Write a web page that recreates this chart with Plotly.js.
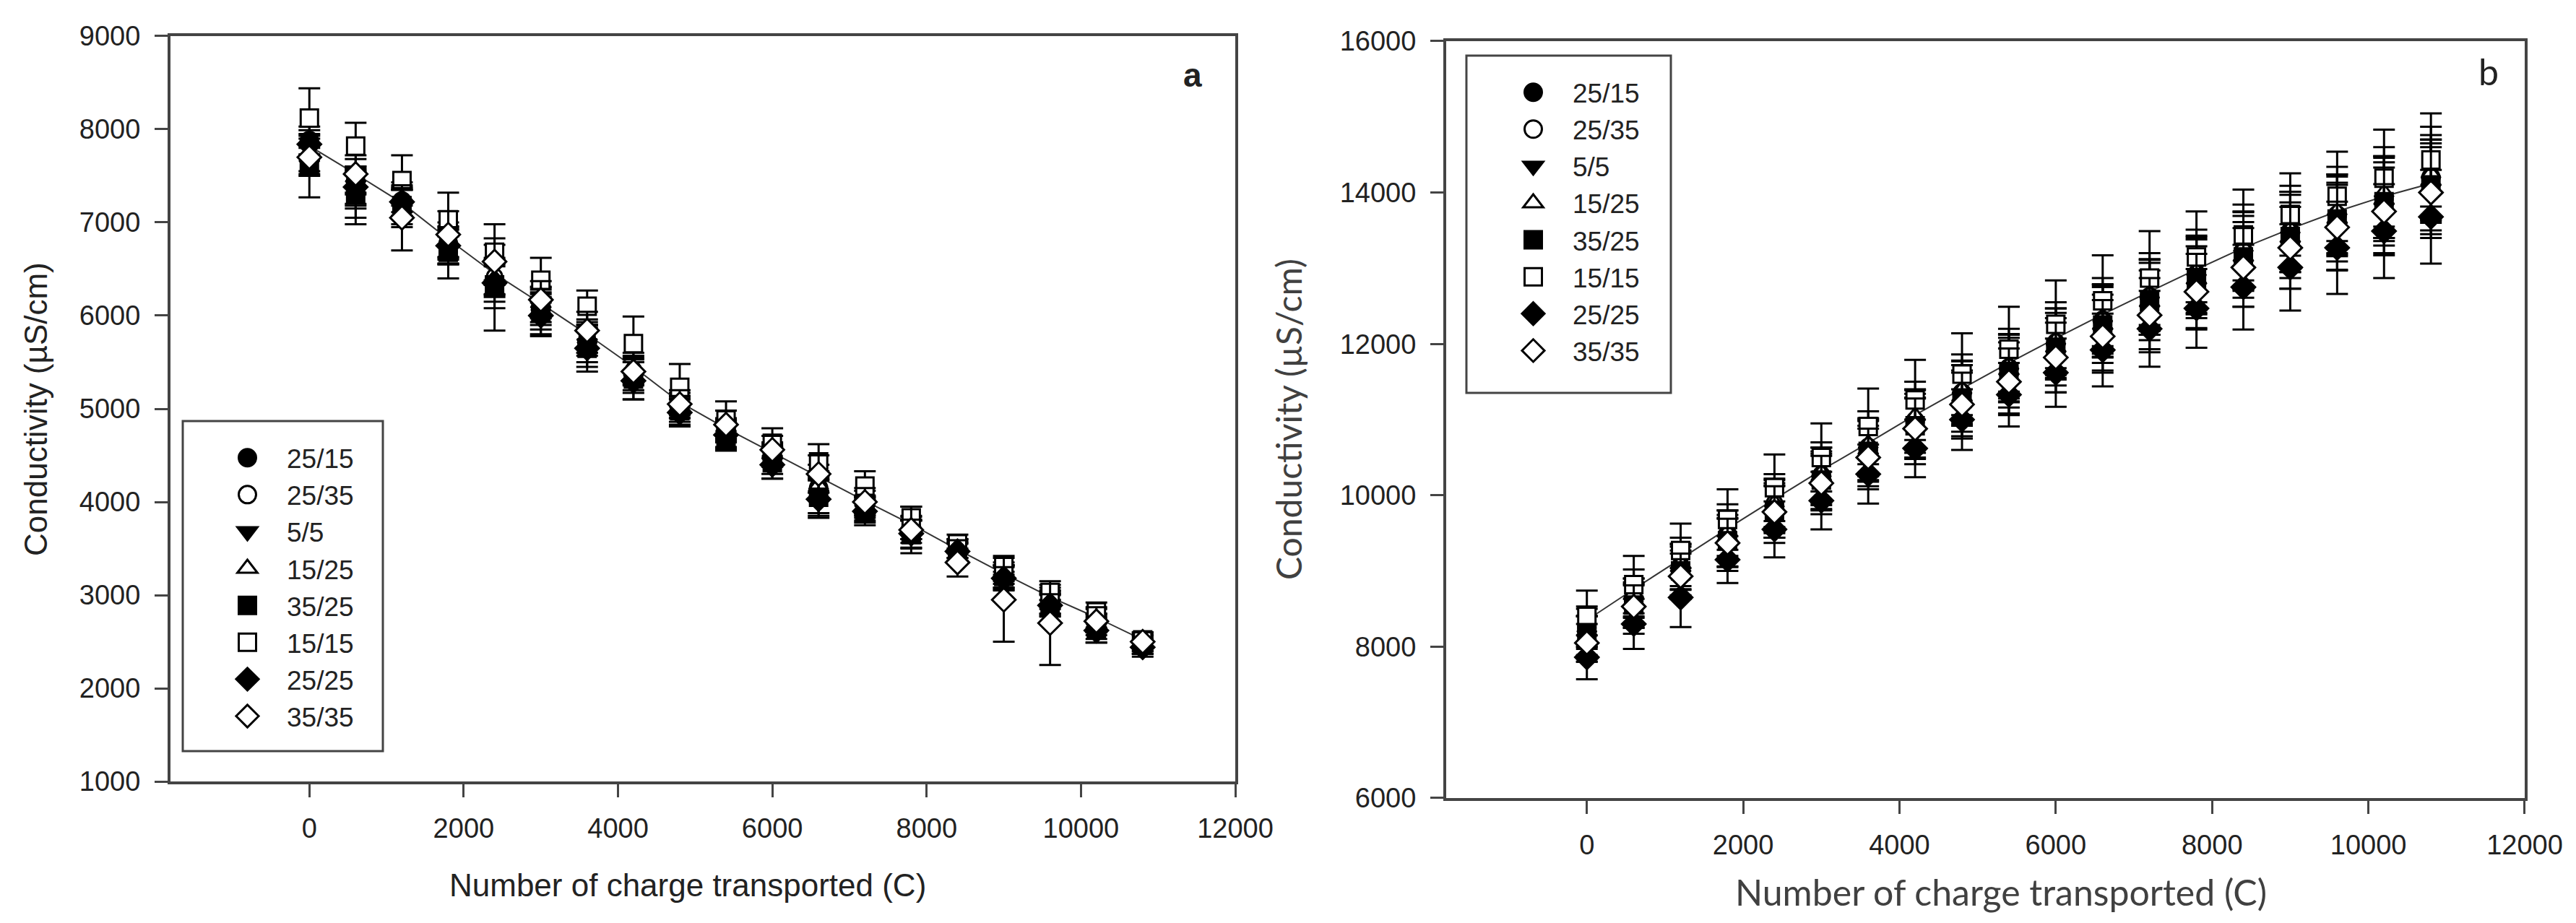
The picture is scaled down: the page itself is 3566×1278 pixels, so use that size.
<!DOCTYPE html>
<html>
<head>
<meta charset="utf-8">
<script src="https://cdn.plot.ly/plotly-3.0.1.min.js"></script>
<style>
  html, body { margin: 0; padding: 0; background: #fff; }
  #chart { width: 3566px; height: 1278px; }
</style>
</head>
<body>
<div id="chart"></div>
<script>
const charge = [0, 600, 1200, 1800, 2400, 3000, 3600, 4200, 4800, 5400, 6000, 6600, 7200, 7800, 8400, 9000, 9600, 10200, 10800];
const seriesNames = ['25/15', '25/35', '5/5', '15/25', '35/25', '15/15', '25/25', '35/35'];

// panel a: conductivity falling
const fitA = [7820, 7520, 7210, 6820, 6450, 6130, 5800, 5450, 5070, 4790, 4530, 4270, 4010, 3760, 3490, 3230, 2980, 2760, 2520];
const a2515 = [7880, 7450, 7230, 6780, 6380, 6080, 5720, 5380, 5000, 4750, 4480, 4150, 3960, 3700, 3480, 3220, 2950, 2700, 2480];
const a2535 = [7830, 7330, 7150, 6740, 6420, 6150, 5780, 5420, 5050, 4780, 4520, 4250, 4000, 3750, 3470, 3250, 2980, 2750, 2510];
const a55 = [7620, 7400, 7200, 6700, 6300, 6050, 5700, 5350, 4980, 4720, 4450, 4080, 3920, 3680, 3450, 3150, 2900, 2650, 2450];
const a1525 = [7700, 7350, 7250, 6800, 6400, 6100, 5750, 5400, 5020, 4760, 4500, 4180, 3950, 3720, 3500, 3200, 2920, 2700, 2470];
const a3525 = [7600, 7300, 7180, 6680, 6330, 6030, 5650, 5320, 4980, 4700, 4420, 4050, 3900, 3650, 3480, 3200, 2900, 2640, 2470];
const a1515 = [8120, 7820, 7450, 7030, 6680, 6380, 6100, 5700, 5230, 4880, 4630, 4430, 4170, 3830, 3550, 3320, 3030, 2820, 2520];
const a2525 = [7840, 7380, 7220, 6750, 6350, 6000, 5650, 5300, 4960, 4720, 4400, 4030, 3900, 3660, 3470, 3180, 2890, 2620, 2440];
const a3535 = [7700, 7520, 7050, 6870, 6580, 6170, 5840, 5400, 5050, 4830, 4560, 4300, 4000, 3700, 3350, 2950, 2700, 2720, 2500];

const a2515Err = [150, 150, 120, 150, 150, 150, 150, 120, 100, 100, 100, 120, 100, 100, 80, 100, 100, 100, 80];
const a2535Err = [120, 350, 200, 180, 200, 160, 180, 150, 120, 120, 120, 150, 120, 100, 100, 100, 100, 100, 80];
const a55Err = [100, 200, 150, 150, 460, 200, 200, 180, 120, 130, 150, 200, 120, 120, 100, 100, 100, 120, 80];
const a1525Err = [150, 200, 180, 200, 200, 200, 150, 150, 120, 120, 120, 150, 120, 120, 100, 120, 120, 100, 100];
const a3525Err = [330, 250, 200, 280, 250, 250, 250, 220, 150, 150, 170, 200, 120, 150, 120, 120, 120, 150, 100];
const a1515Err = [320, 250, 270, 290, 300, 240, 170, 290, 250, 200, 160, 190, 160, 120, 100, 100, 80, 100, 80];
const a2525Err = [150, 200, 150, 200, 200, 200, 200, 200, 150, 150, 150, 200, 150, 150, 120, 120, 120, 130, 100];
const a3535Err = [200, 200, 350, 250, 250, 200, 200, 200, 150, 150, 150, 200, 150, 250, 150, 450, 450, 150, 100];

// panel b: conductivity rising
const fitB = [8350, 8760, 9160, 9560, 9950, 10330, 10690, 11060, 11410, 11750, 12075, 12390, 12690, 12985, 13270, 13520, 13750, 13950, 14120];
const b2515 = [8250, 8600, 9050, 9480, 9850, 10250, 10600, 10980, 11350, 11680, 12000, 12300, 12620, 12900, 13220, 13480, 13700, 13920, 14200];
const b2535 = [8200, 8650, 9080, 9500, 9900, 10280, 10650, 11000, 11370, 11700, 12030, 12330, 12640, 12940, 13250, 13500, 13720, 13940, 14150];
const b55 = [8100, 8500, 8950, 9350, 9750, 10150, 10500, 10850, 11200, 11550, 11850, 12150, 12450, 12750, 13050, 13300, 13550, 13800, 14050];
const b1525 = [8250, 8700, 9100, 9520, 9900, 10300, 10680, 11050, 11400, 11720, 12050, 12350, 12660, 12960, 13280, 13520, 13760, 14000, 14250];
const b3525 = [8150, 8550, 9000, 9400, 9800, 10200, 10580, 10920, 11280, 11620, 11930, 12250, 12560, 12860, 13150, 13420, 13650, 13880, 14100];
const b1515 = [8400, 8820, 9270, 9680, 10100, 10500, 10910, 11260, 11600, 11930, 12260, 12570, 12870, 13150, 13440, 13710, 13950, 14190, 14430];
const b2525 = [7860, 8300, 8650, 9150, 9550, 9930, 10280, 10620, 11000, 11330, 11620, 11920, 12200, 12470, 12750, 13010, 13270, 13490, 13680];
const b3535 = [8050, 8530, 8930, 9370, 9780, 10160, 10500, 10880, 11200, 11500, 11820, 12100, 12380, 12690, 13010, 13270, 13540, 13750, 14000];

const b2515Err = [250, 300, 300, 320, 350, 380, 400, 420, 430, 450, 470, 480, 500, 510, 520, 530, 540, 560, 560];
const b2535Err = [200, 250, 280, 300, 320, 350, 370, 390, 400, 420, 440, 460, 470, 490, 500, 510, 520, 540, 550];
const b55Err = [300, 330, 320, 350, 380, 400, 420, 440, 450, 470, 490, 500, 520, 540, 560, 570, 580, 600, 600];
const b1525Err = [280, 320, 340, 360, 380, 400, 430, 450, 460, 480, 500, 520, 540, 550, 560, 570, 580, 600, 620];
const b3525Err = [260, 300, 320, 340, 360, 380, 400, 420, 440, 460, 480, 500, 510, 520, 540, 550, 560, 580, 600];
const b1515Err = [340, 380, 356, 400, 440, 450, 500, 530, 540, 560, 580, 600, 620, 600, 600, 544, 590, 640, 615];
const b2525Err = [290, 330, 390, 310, 370, 380, 390, 380, 400, 420, 450, 480, 500, 520, 560, 570, 610, 620, 620];
const b3535Err = [250, 280, 300, 320, 340, 360, 380, 400, 420, 440, 460, 480, 490, 500, 520, 540, 560, 580, 600];

const symbols = ['circle', 'circle', 'triangle-down', 'triangle-up', 'square', 'square', 'diamond', 'diamond'];
const fills = ['#000', '#fff', '#000', '#fff', '#000', '#fff', '#000', '#fff'];
const sizes = [24, 21, 24, 23, 24, 24, 25, 25];

const arial = 'Liberation Sans, Arial, sans-serif';
const calibri = 'Lato, Liberation Sans, sans-serif';

function panel(values, errors, fit, xaxis, yaxis, legend) {
  const line = {
    type: 'scatter', mode: 'lines', x: charge, y: fit, xaxis, yaxis,
    showlegend: false, hoverinfo: 'skip',
    line: { color: '#333', width: 2 },
  };
  const points = seriesNames.map((name, i) => ({
    type: 'scatter', mode: 'markers', name, x: charge, y: values[i], xaxis, yaxis, legend,
    error_y: { type: 'data', array: errors[i], visible: true, color: '#000', thickness: 3, width: 15 },
    marker: { symbol: symbols[i], size: sizes[i], color: fills[i], line: { color: '#000', width: 3 } },
  }));
  return [line, ...points];
}

function axis(extra) {
  return Object.assign({
    showline: true, linewidth: 4, linecolor: '#444', mirror: true,
    ticks: 'outside', ticklen: 18, tickwidth: 3, tickcolor: '#444',
    showgrid: false, zeroline: false, tickformat: 'd',
    tickfont: { family: arial, size: 38, color: '#222' },
  }, extra);
}

// the box is drawn as a shape, so the legend itself has no border
function legendBox(x, y) {
  return {
    x, y, xanchor: 'left', yanchor: 'top',
    bgcolor: 'rgba(0,0,0,0)', borderwidth: 0,
    font: { family: arial, size: 37, color: '#222' },
    tracegroupgap: 0, itemwidth: 99,
  };
}

function frame(x0, x1, y0, y1) {
  return { type: 'rect', xref: 'paper', yref: 'paper', x0, x1, y0, y1,
    line: { color: '#444', width: 3 }, fillcolor: '#fff', layer: 'above' };
}

function label(text, x, y, size, family, extra) {
  return Object.assign({
    text, x, y, xref: 'paper', yref: 'paper', showarrow: false,
    xanchor: 'center', yanchor: 'middle',
    font: { family, size, color: '#222' },
  }, extra);
}

const traces = [
  ...panel([a2515, a2535, a55, a1525, a3525, a1515, a2525, a3535],
    [a2515Err, a2535Err, a55Err, a1525Err, a3525Err, a1515Err, a2525Err, a3535Err],
    fitA, 'x', 'y', 'legend'),
  ...panel([b2515, b2535, b55, b1525, b3525, b1515, b2525, b3535],
    [b2515Err, b2535Err, b55Err, b1525Err, b3525Err, b1515Err, b2525Err, b3535Err],
    fitB, 'x2', 'y2', 'legend2'),
];

const ticksX = [0, 2000, 4000, 6000, 8000, 10000, 12000];

const layout = {
  width: 3566, height: 1278,
  margin: { l: 0, r: 0, t: 0, b: 0 },
  paper_bgcolor: '#fff', plot_bgcolor: '#fff',
  showlegend: true,
  xaxis: axis({ domain: [0.06618, 0.47953], range: [-1800, 12000], tickvals: ticksX, anchor: 'y', ticklabelstandoff: 10 }),
  yaxis: axis({ domain: [0.15336, 0.96088], range: [1000, 9000], dtick: 1000, anchor: 'x', ticklabelstandoff: 12 }),
  xaxis2: axis({ domain: [0.56141, 0.98009], range: [-1800, 12000], tickvals: ticksX, anchor: 'y2', ticklabelstandoff: 10 }),
  yaxis2: axis({ domain: [0.13537, 0.9554], range: [6000, 16000], dtick: 2000, anchor: 'x2', ticklabelstandoff: 12 }),
  legend: legendBox(0.08076, 0.528),
  legend2: legendBox(0.57992, 0.924),
  shapes: [
    frame(0.07095, 0.14863, 0.18623, 0.54382),
    frame(0.56926, 0.64863, 0.57433, 0.93975),
  ],
  annotations: [
    label('Conductivity (µS/cm)', 0.0137, 0.557, 44, arial, { textangle: -90 }),
    label('Number of charge transported (C)', 0.267, 0.0407, 44, arial),
    label('<b>a</b>', 0.463, 0.9186, 46, arial),
    label('Conductivity (µS/cm)', 0.5003, 0.5454, 48, calibri, { textangle: -90, font: { family: calibri, size: 48, color: '#404040' } }),
    label('Number of charge transported (C)', 0.7768, 0.0336, 50, calibri, { font: { family: calibri, size: 50, color: '#404040' } }),
    label('b', 0.9661, 0.9225, 50, calibri),
  ],
};

Plotly.newPlot('chart', traces, layout, { displayModeBar: false, staticPlot: true }).then(gd => {
  // legend symbols are capped at 16px by plotly, the original ones are bigger
  gd.querySelectorAll('.legendpoints path.scatterpts').forEach(p => {
    p.setAttribute('transform', (p.getAttribute('transform') || '') + ' scale(1.5)');
    p.style.strokeWidth = '2px';
  });
});
</script>
</body>
</html>
